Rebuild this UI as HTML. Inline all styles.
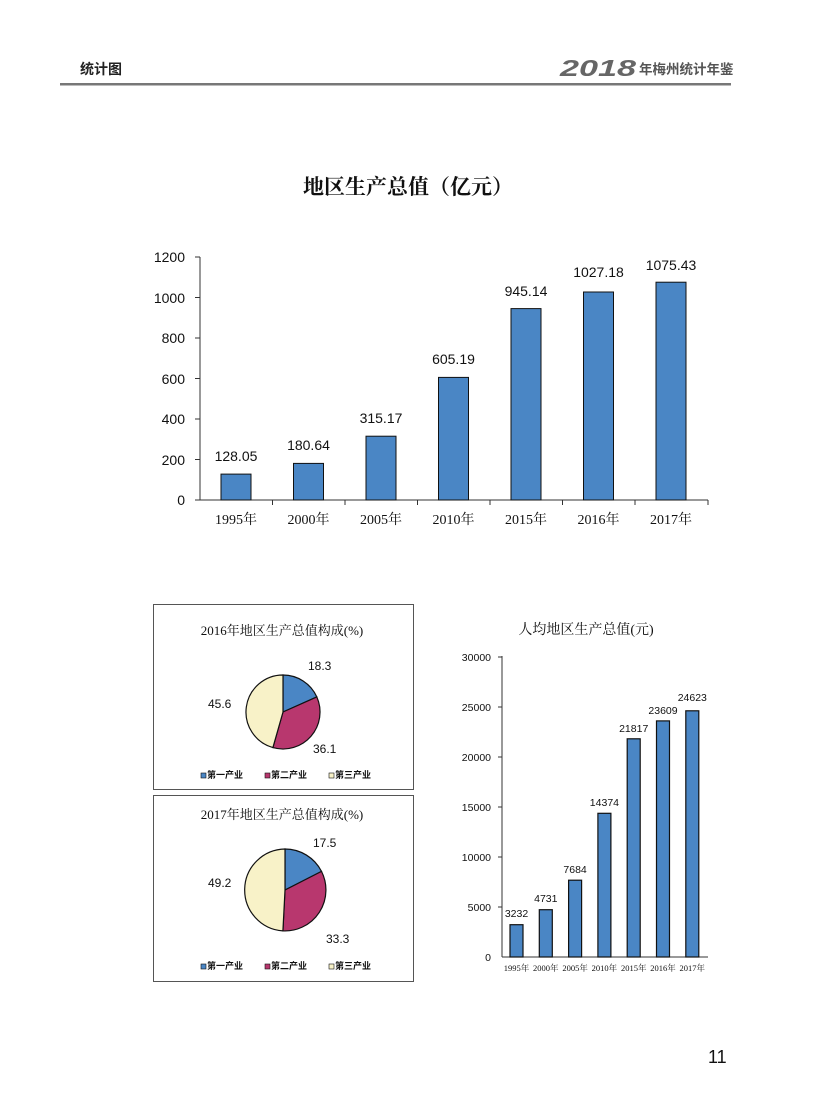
<!DOCTYPE html>
<html><head><meta charset="utf-8"><style>
body{margin:0;background:#fff;}
svg text{font-family:"Liberation Sans","Noto Sans CJK SC",sans-serif;}
.s{font-family:"Liberation Serif","Noto Serif CJK SC",serif !important;}
</style></head><body>
<svg width="816" height="1099" viewBox="0 0 816 1099" xmlns="http://www.w3.org/2000/svg">
<rect width="816" height="1099" fill="#fff"/>
<!-- header -->
<text x="80" y="74" font-size="14" font-weight="bold" fill="#222">统计图</text>
<text x="560" y="76" font-size="23" font-weight="bold" font-style="italic" fill="#666" textLength="76" lengthAdjust="spacingAndGlyphs">2018</text>
<text x="639" y="74" font-size="13.5" font-weight="bold" fill="#555">年梅州统计年鉴</text>
<rect x="60" y="83" width="671" height="2.5" fill="#777"/>
<!-- main title -->
<text x="408" y="194" font-size="21" font-weight="bold" text-anchor="middle" fill="#111" class="s">地区生产总值（亿元）</text>
<!-- main chart -->
<g font-size="14" fill="#111">
<line x1="200" y1="257" x2="200" y2="500" stroke="#333"/>
<line x1="200" y1="500" x2="708" y2="500" stroke="#333"/>
<g stroke="#333">
<line x1="195" y1="500" x2="200" y2="500"/><line x1="195" y1="459.5" x2="200" y2="459.5"/><line x1="195" y1="419" x2="200" y2="419"/><line x1="195" y1="378.5" x2="200" y2="378.5"/><line x1="195" y1="338" x2="200" y2="338"/><line x1="195" y1="297.5" x2="200" y2="297.5"/><line x1="195" y1="257" x2="200" y2="257"/>
<line x1="272.5" y1="500" x2="272.5" y2="505"/><line x1="345" y1="500" x2="345" y2="505"/><line x1="417.5" y1="500" x2="417.5" y2="505"/><line x1="490" y1="500" x2="490" y2="505"/><line x1="562.5" y1="500" x2="562.5" y2="505"/><line x1="635" y1="500" x2="635" y2="505"/><line x1="708" y1="500" x2="708" y2="505"/>
</g>
<g text-anchor="end">
<text x="185" y="505">0</text><text x="185" y="465">200</text><text x="185" y="424">400</text><text x="185" y="384">600</text><text x="185" y="343">800</text><text x="185" y="303">1000</text><text x="185" y="262">1200</text>
</g>
<g fill="#4a86c5" stroke="#111" stroke-width="1">
<rect x="221" y="474.1" width="30" height="25.9"/>
<rect x="293.5" y="463.4" width="30" height="36.6"/>
<rect x="366" y="436.2" width="30" height="63.8"/>
<rect x="438.5" y="377.4" width="30" height="122.6"/>
<rect x="511" y="308.6" width="30" height="191.4"/>
<rect x="583.5" y="292" width="30" height="208"/>
<rect x="656" y="282.2" width="30" height="217.8"/>
</g>
<g text-anchor="middle">
<text x="236" y="461">128.05</text><text x="308.5" y="450">180.64</text><text x="381" y="423">315.17</text><text x="453.5" y="364">605.19</text><text x="526" y="296">945.14</text><text x="598.5" y="277">1027.18</text><text x="671" y="270">1075.43</text>
</g>
<g text-anchor="middle" font-size="14">
<text class="s" x="236" y="524">1995年</text><text class="s" x="308.5" y="524">2000年</text><text class="s" x="381" y="524">2005年</text><text class="s" x="453.5" y="524">2010年</text><text class="s" x="526" y="524">2015年</text><text class="s" x="598.5" y="524">2016年</text><text class="s" x="671" y="524">2017年</text>
</g>
</g>
<!-- pie 1 -->
<rect x="153.5" y="604.5" width="260" height="185" fill="none" stroke="#555"/>
<text class="s" x="282" y="635" font-size="13" text-anchor="middle" fill="#111">2016年地区生产总值构成(%)</text>
<g stroke="#111" stroke-width="1.2">
<path d="M283 712 L283 675 A37 37 0 0 1 316.8 696.9 Z" fill="#4a86c5"/>
<path d="M283 712 L316.8 696.9 A37 37 0 0 1 272.9 747.6 Z" fill="#b8376e"/>
<path d="M283 712 L272.9 747.6 A37 37 0 0 1 283 675 Z" fill="#f8f2c8"/>
</g>
<g font-size="12" fill="#111">
<text x="308" y="670">18.3</text><text x="313" y="753">36.1</text><text x="208" y="708">45.6</text>
</g>
<g font-size="9" fill="#111" font-weight="bold">
<rect x="201" y="773" width="5" height="5" fill="#4a86c5" stroke="#111" stroke-width=".6"/><text x="207" y="778">第一产业</text>
<rect x="265" y="773" width="5" height="5" fill="#b8376e" stroke="#111" stroke-width=".6"/><text x="271" y="778">第二产业</text>
<rect x="329" y="773" width="5" height="5" fill="#f8f2c8" stroke="#111" stroke-width=".6"/><text x="335" y="778">第三产业</text>
</g>
<!-- pie 2 -->
<rect x="153.5" y="795.5" width="260" height="186" fill="none" stroke="#555"/>
<text class="s" x="282" y="819" font-size="13" text-anchor="middle" fill="#111">2017年地区生产总值构成(%)</text>
<g stroke="#111" stroke-width="1.2">
<path d="M285 890 L285 849 A41 41 0 0 1 321.5 871.4 Z" fill="#4a86c5"/>
<path d="M285 890 L321.5 871.4 A41 41 0 0 1 282.9 930.9 Z" fill="#b8376e"/>
<path d="M285 890 L282.9 930.9 A41 41 0 0 1 285 849 Z" fill="#f8f2c8"/>
</g>
<g font-size="12" fill="#111">
<text x="313" y="847">17.5</text><text x="326" y="943">33.3</text><text x="208" y="887">49.2</text>
</g>
<g font-size="9" fill="#111" font-weight="bold">
<rect x="201" y="964" width="5" height="5" fill="#4a86c5" stroke="#111" stroke-width=".6"/><text x="207" y="969">第一产业</text>
<rect x="265" y="964" width="5" height="5" fill="#b8376e" stroke="#111" stroke-width=".6"/><text x="271" y="969">第二产业</text>
<rect x="329" y="964" width="5" height="5" fill="#f8f2c8" stroke="#111" stroke-width=".6"/><text x="335" y="969">第三产业</text>
</g>
<!-- small chart -->
<text class="s" x="586" y="634" font-size="14" text-anchor="middle" fill="#111">人均地区生产总值(元)</text>
<line x1="502" y1="656" x2="502" y2="957" stroke="#333"/>
<line x1="502" y1="957" x2="708" y2="957" stroke="#333"/>
<g font-size="10.5" fill="#111" text-anchor="end">
<text x="491" y="961">0</text><text x="491" y="911">5000</text><text x="491" y="861">10000</text><text x="491" y="811">15000</text><text x="491" y="761">20000</text><text x="491" y="711">25000</text><text x="491" y="661">30000</text>
</g>
<g stroke="#333">
<line x1="498" y1="657" x2="502" y2="657"/><line x1="498" y1="707" x2="502" y2="707"/><line x1="498" y1="757" x2="502" y2="757"/><line x1="498" y1="807" x2="502" y2="807"/><line x1="498" y1="857" x2="502" y2="857"/><line x1="498" y1="907" x2="502" y2="907"/>
</g>
<g fill="#4a86c5" stroke="#111" stroke-width="1.2">
<rect x="510" y="924.7" width="13" height="32.3"/>
<rect x="539.3" y="909.7" width="13" height="47.3"/>
<rect x="568.6" y="880.2" width="13" height="76.8"/>
<rect x="597.9" y="813.3" width="13" height="143.7"/>
<rect x="627.2" y="738.8" width="13" height="218.2"/>
<rect x="656.5" y="720.9" width="13" height="236.1"/>
<rect x="685.8" y="710.8" width="13" height="246.2"/>
</g>
<g font-size="10.5" fill="#111" text-anchor="middle">
<text x="516.5" y="917">3232</text><text x="545.8" y="902">4731</text><text x="575.1" y="873">7684</text><text x="604.4" y="806">14374</text><text x="633.7" y="732">21817</text><text x="663" y="714">23609</text><text x="692.3" y="701">24623</text>
</g>
<g font-size="8.5" fill="#111" text-anchor="middle">
<text class="s" x="516.5" y="971">1995年</text><text class="s" x="545.8" y="971">2000年</text><text class="s" x="575.1" y="971">2005年</text><text class="s" x="604.4" y="971">2010年</text><text class="s" x="633.7" y="971">2015年</text><text class="s" x="663" y="971">2016年</text><text class="s" x="692.3" y="971">2017年</text>
</g>
<text x="708" y="1063" font-size="18" fill="#111">11</text>
</svg>
</body></html>
